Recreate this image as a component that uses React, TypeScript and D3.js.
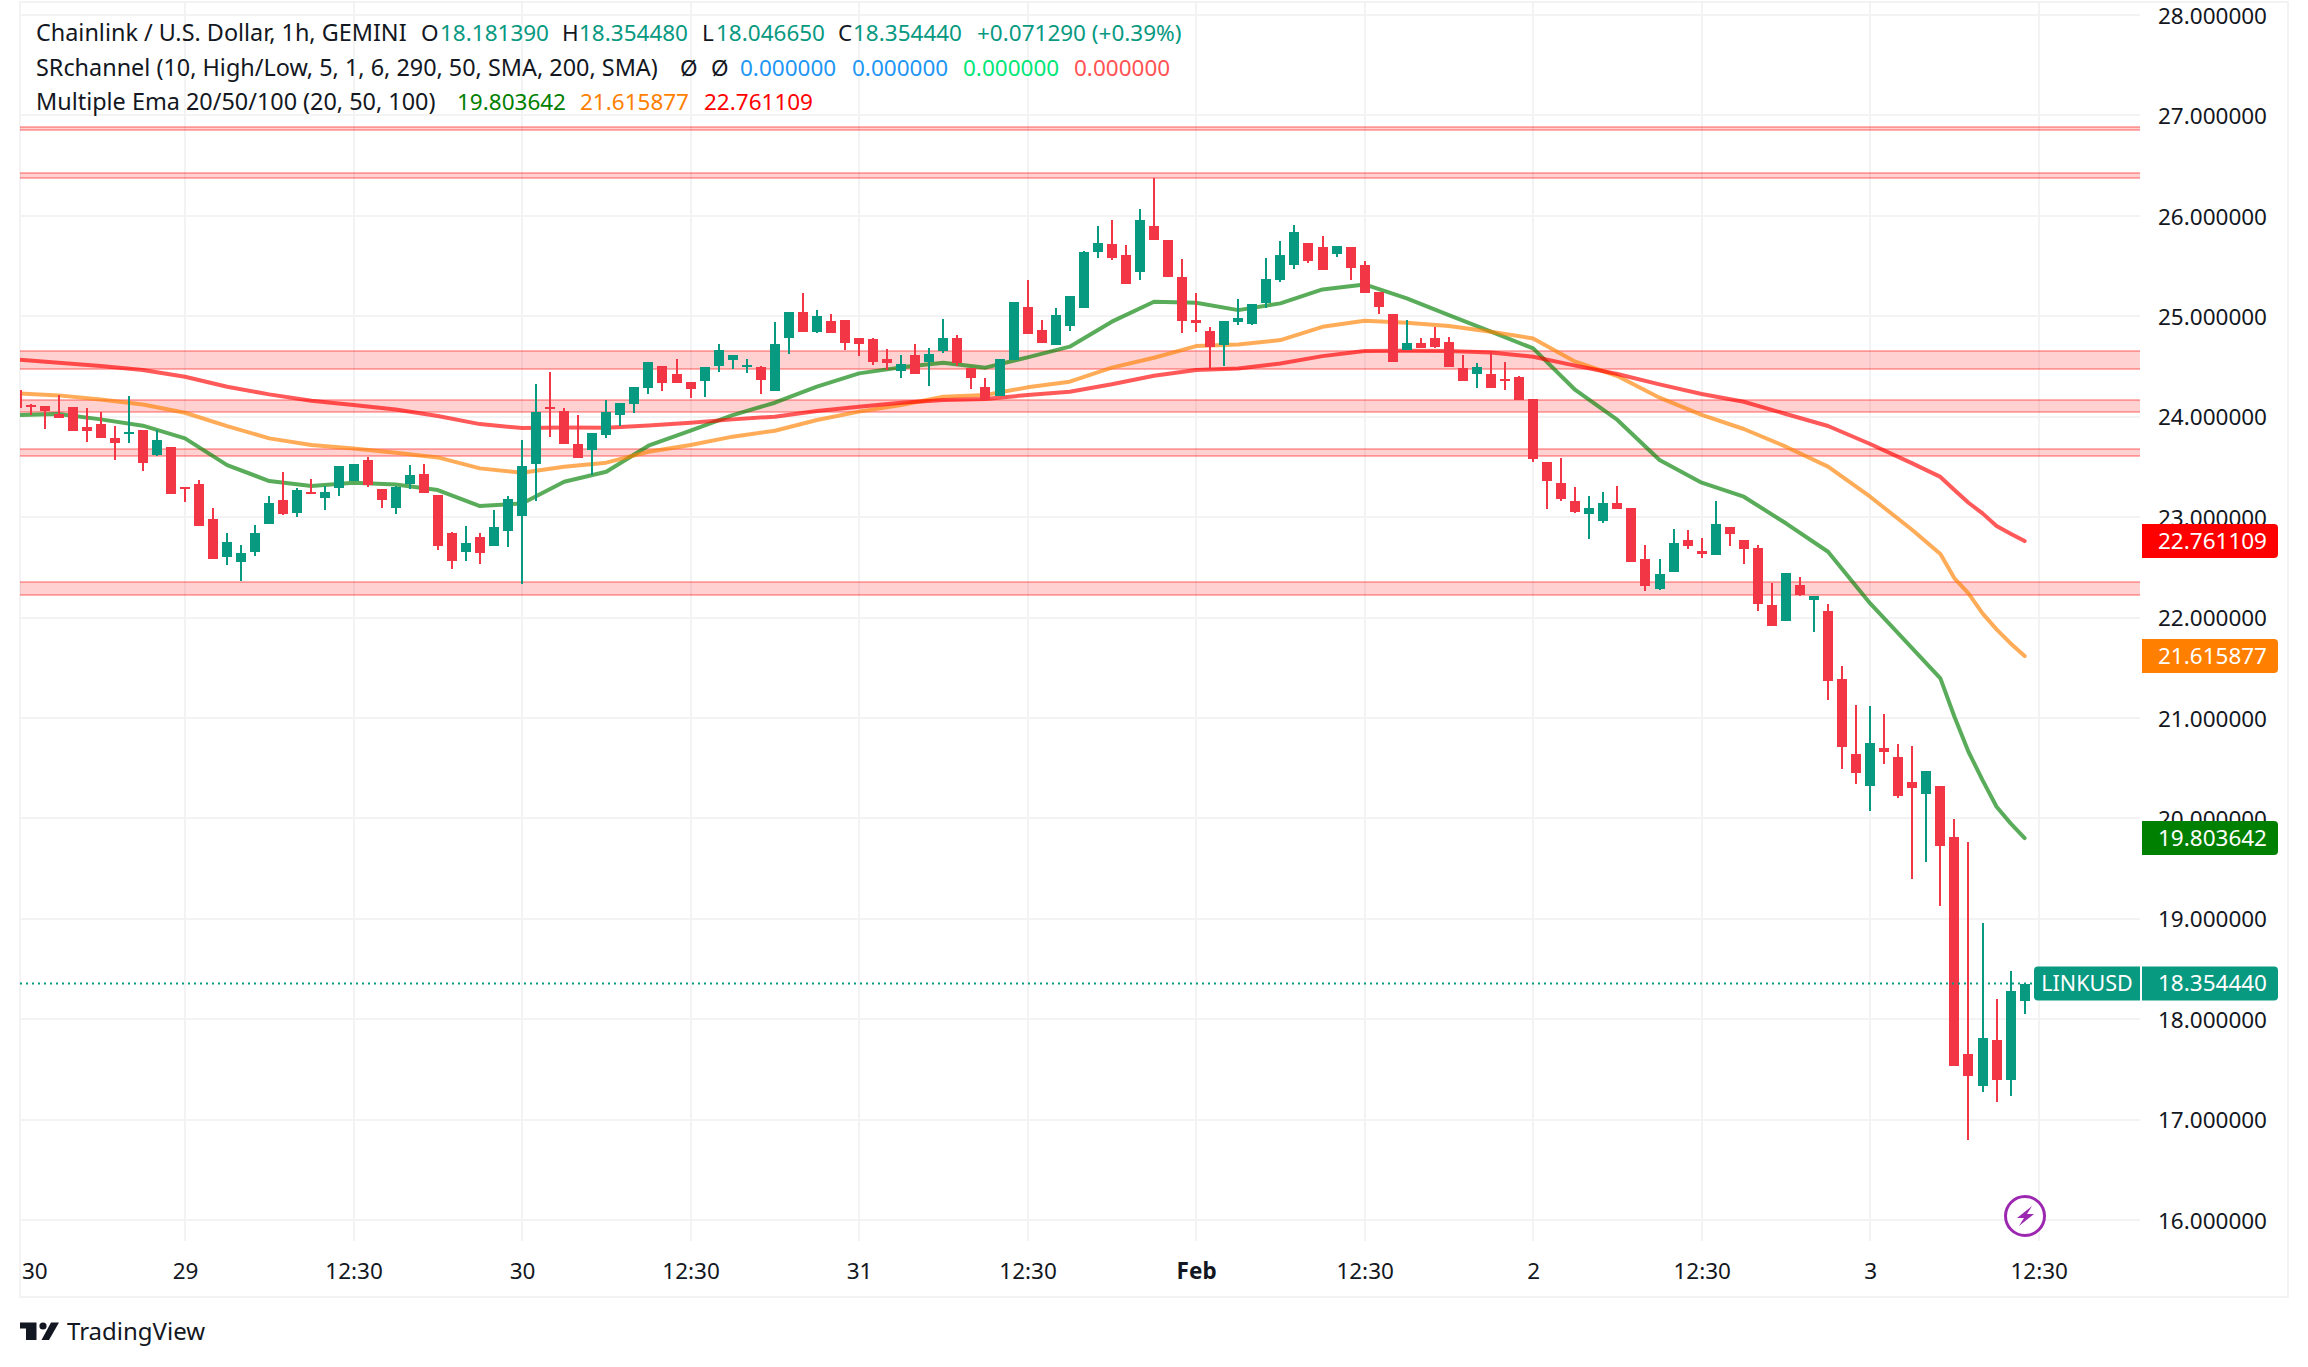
import React, { useEffect, useRef } from 'react';
import * as d3 from 'd3';

const opens = [
  24.265, 24.116, 24.106, 24.026, 24.096, 23.896, 23.926, 23.787, 23.827, 23.867, 23.618, 23.697,
  23.299, 23.329, 22.98, 22.602, 22.552, 22.651, 22.93, 23.169, 23.04, 23.249, 23.189, 23.289,
  23.359, 23.568, 23.279, 23.09, 23.329, 23.428, 23.219, 22.841, 22.651, 22.801, 22.711, 22.861,
  23.01, 23.528, 24.096, 24.056, 23.727, 23.667, 23.817, 24.016, 24.126, 24.285, 24.504, 24.425,
  24.345, 24.355, 24.504, 24.564, 24.494, 24.494, 24.255, 24.783, 25.042, 24.843, 24.953, 24.963,
  24.783, 24.773, 24.574, 24.455, 24.614, 24.544, 24.654, 24.783, 24.485, 24.295, 24.206, 24.563,
  25.091, 24.862, 24.713, 24.902, 25.081, 25.639, 25.719, 25.609, 25.44, 25.898, 25.759, 25.39,
  24.962, 24.852, 24.713, 24.942, 24.922, 25.131, 25.36, 25.51, 25.729, 25.689, 25.619, 25.689,
  25.51, 25.241, 25.022, 24.663, 24.733, 24.783, 24.743, 24.484, 24.424, 24.424, 24.374, 24.394,
  24.176, 23.548, 23.339, 23.16, 23.031, 22.961, 23.14, 23.09, 22.582, 22.284, 22.453, 22.772,
  22.662, 22.622, 22.901, 22.772, 22.692, 22.124, 21.965, 22.323, 22.174, 22.064, 21.387, 20.64,
  20.321, 20.7, 20.61, 20.361, 20.242, 20.321, 19.814, 17.653, 17.334, 17.792, 17.394, 18.18139,
];
const highs = [
  24.265, 24.126, 24.106, 24.215, 24.096, 24.086, 24.046, 23.906, 24.205, 23.867, 23.867, 23.697,
  23.299, 23.369, 23.09, 22.841, 22.721, 22.92, 23.209, 23.448, 23.289, 23.379, 23.309, 23.508,
  23.528, 23.598, 23.279, 23.309, 23.518, 23.528, 23.219, 22.851, 22.91, 22.841, 23.07, 23.209,
  23.767, 24.325, 24.444, 24.086, 24.016, 23.837, 24.166, 24.136, 24.295, 24.544, 24.504, 24.574,
  24.345, 24.494, 24.724, 24.614, 24.574, 24.504, 24.943, 25.042, 25.232, 25.062, 25.022, 24.963,
  24.783, 24.783, 24.674, 24.614, 24.724, 24.684, 24.973, 24.813, 24.485, 24.385, 24.574, 25.141,
  25.36, 24.962, 25.081, 25.201, 25.649, 25.898, 25.958, 25.709, 26.067, 26.376, 25.759, 25.569,
  25.231, 24.892, 24.952, 25.171, 25.121, 25.579, 25.749, 25.908, 25.729, 25.798, 25.699, 25.689,
  25.549, 25.241, 25.022, 24.962, 24.783, 24.892, 24.792, 24.613, 24.534, 24.643, 24.543, 24.404,
  24.176, 23.548, 23.588, 23.299, 23.21, 23.25, 23.309, 23.09, 22.722, 22.582, 22.881, 22.871,
  22.792, 23.16, 22.901, 22.772, 22.722, 22.343, 22.443, 22.403, 22.214, 22.134, 21.516, 21.128,
  21.118, 21.038, 20.74, 20.72, 20.471, 20.321, 19.994, 19.764, 18.958, 18.201, 18.48, 18.35448,
];
const lows = [
  24.089, 24.016, 23.877, 23.986, 23.857, 23.747, 23.787, 23.568, 23.737, 23.458, 23.608, 23.229,
  23.149, 22.91, 22.582, 22.522, 22.363, 22.612, 22.93, 23.02, 23.0, 23.229, 23.07, 23.209,
  23.359, 23.299, 23.09, 23.03, 23.279, 23.239, 22.671, 22.482, 22.562, 22.532, 22.711, 22.701,
  22.333, 23.159, 23.797, 23.727, 23.588, 23.418, 23.787, 23.907, 24.036, 24.226, 24.255, 24.335,
  24.186, 24.196, 24.445, 24.475, 24.435, 24.226, 24.255, 24.624, 24.843, 24.833, 24.833, 24.664,
  24.604, 24.514, 24.465, 24.385, 24.425, 24.305, 24.634, 24.504, 24.275, 24.166, 24.206, 24.563,
  24.822, 24.733, 24.713, 24.852, 25.081, 25.579, 25.559, 25.32, 25.36, 25.759, 25.39, 24.832,
  24.842, 24.464, 24.504, 24.912, 24.912, 25.081, 25.34, 25.47, 25.53, 25.46, 25.589, 25.36,
  25.231, 25.022, 24.543, 24.663, 24.683, 24.683, 24.494, 24.354, 24.285, 24.285, 24.265, 24.165,
  23.548, 23.08, 23.16, 23.041, 22.782, 22.941, 23.08, 22.552, 22.264, 22.274, 22.453, 22.682,
  22.592, 22.622, 22.712, 22.533, 22.064, 21.915, 21.965, 22.214, 21.855, 21.178, 20.491, 20.341,
  20.072, 20.54, 20.202, 19.395, 19.564, 19.126, 17.533, 16.796, 17.274, 17.175, 17.235, 18.04665,
];
const closes = [
  24.089, 24.096, 24.056, 23.986, 23.857, 23.857, 23.787, 23.737, 23.847, 23.538, 23.767, 23.229,
  23.279, 22.91, 22.582, 22.751, 22.642, 22.841, 23.14, 23.03, 23.269, 23.229, 23.249, 23.508,
  23.528, 23.319, 23.169, 23.299, 23.418, 23.239, 22.711, 22.562, 22.741, 22.642, 22.9, 23.179,
  23.508, 24.046, 24.076, 23.727, 23.588, 23.837, 24.046, 24.136, 24.295, 24.544, 24.335, 24.335,
  24.275, 24.494, 24.664, 24.614, 24.514, 24.365, 24.724, 25.042, 24.843, 25.002, 24.833, 24.734,
  24.724, 24.544, 24.534, 24.524, 24.425, 24.624, 24.783, 24.534, 24.385, 24.166, 24.574, 25.141,
  24.822, 24.733, 25.012, 25.201, 25.639, 25.729, 25.579, 25.32, 25.958, 25.759, 25.39, 24.952,
  24.932, 24.693, 24.952, 24.982, 25.121, 25.37, 25.609, 25.838, 25.549, 25.46, 25.699, 25.48,
  25.231, 25.091, 24.543, 24.733, 24.683, 24.693, 24.494, 24.354, 24.494, 24.285, 24.354, 24.165,
  23.578, 23.359, 23.18, 23.05, 23.09, 23.14, 23.08, 22.552, 22.313, 22.433, 22.742, 22.712,
  22.632, 22.931, 22.831, 22.682, 22.134, 21.915, 22.443, 22.224, 22.214, 21.367, 20.71, 20.451,
  20.75, 20.66, 20.222, 20.301, 20.471, 19.724, 17.533, 17.434, 17.812, 17.394, 18.28, 18.35444,
];

const emaHours = [
  0, 3, 6, 9, 12, 15, 18, 21, 24, 27, 30, 33, 36, 39,
  42, 45, 48, 51, 54, 57, 60, 63, 66, 69, 72, 75, 78, 81,
  84, 87, 90, 93, 96, 99, 102, 105, 108,
  111, 114, 117, 120, 123, 126, 129, 132, 135,
  137, 138, 139, 140, 141, 142, 143,
];
const ema20 = [
  24.016, 24.026, 23.973, 23.91, 23.784, 23.518, 23.359, 23.309, 23.342, 23.325, 23.269, 23.11, 23.136, 23.352,
  23.452, 23.711, 23.86, 24.016, 24.139, 24.299, 24.431, 24.491, 24.538, 24.488, 24.591, 24.697, 24.946, 25.145,
  25.134, 25.061, 25.128, 25.267, 25.317, 25.178, 25.012, 24.846, 24.68,
  24.266, 23.967, 23.568, 23.343, 23.203, 22.938, 22.655, 22.14, 21.692,
  21.394, 21.012, 20.663, 20.381, 20.115, 19.95, 19.804,
];
const ema50 = [
  24.232, 24.212, 24.172, 24.122, 24.039, 23.906, 23.784, 23.717, 23.684, 23.641, 23.594, 23.485, 23.442, 23.501,
  23.542, 23.651, 23.718, 23.801, 23.86, 23.967, 24.05, 24.116, 24.199, 24.216, 24.292, 24.348, 24.488, 24.587,
  24.703, 24.719, 24.763, 24.895, 24.955, 24.935, 24.902, 24.846, 24.779,
  24.548, 24.405, 24.189, 24.017, 23.877, 23.701, 23.502, 23.203, 22.871,
  22.632, 22.39, 22.24, 22.041, 21.882, 21.742, 21.616,
];
const ema100 = [
  24.57, 24.537, 24.504, 24.464, 24.398, 24.298, 24.222, 24.159, 24.116, 24.072, 24.006, 23.926, 23.887, 23.893,
  23.89, 23.913, 23.94, 23.973, 24.0, 24.056, 24.099, 24.139, 24.166, 24.176, 24.216, 24.249, 24.322, 24.408,
  24.464, 24.48, 24.53, 24.603, 24.653, 24.656, 24.653, 24.64, 24.597,
  24.508, 24.425, 24.322, 24.226, 24.149, 24.027, 23.907, 23.728, 23.535,
  23.4, 23.27, 23.143, 23.037, 22.911, 22.835, 22.761,
];

// support / resistance channels, [top, bottom]
const channels: [number, number][] = [
  [26.88, 26.85],
  [26.43, 26.38],
  [24.65, 24.47],
  [24.17, 24.05],
  [23.68, 23.61],
  [22.35, 22.22],
];

const priceTicks = d3.range(16, 29);
const timeTicks = [12, 24, 36, 48, 60, 72, 84, 96, 108, 120, 132, 144];
const timeLabels = ['29', '12:30', '30', '12:30', '31', '12:30', 'Feb', '12:30', '2', '12:30', '3', '12:30'];

const UP = '#089981';
const DOWN = '#f23645';
const GRID = '#f3f3f4';
const TEXT = '#131722';
const FONT = '"Noto Sans", sans-serif';
const NUM_SIZE = 22.5;
const WORD_SIZE = 23.4;

const W = 2308;
const H = 1367;

const App: React.FC = () => {
  const ref = useRef<SVGSVGElement | null>(null);

  useEffect(() => {
    if (!ref.current) return;
    const svg = d3.select(ref.current);
    svg.selectAll('*').remove();

    const x = d3.scaleLinear().domain([0, 144]).range([16.5, 2038.7]);
    const y = d3.scaleLinear().domain([16, 28]).range([1220, 15]);
    const left = 20;
    const right = 2140;

    svg.append('defs').append('clipPath').attr('id', 'pane')
      .append('rect').attr('x', left).attr('y', 0).attr('width', right - left).attr('height', 1241);

    // frame
    svg.append('rect').attr('x', 20).attr('y', 2).attr('width', 2268).attr('height', 1295)
      .attr('fill', 'none').attr('stroke', GRID).attr('stroke-width', 2);

    // grid
    const grid = svg.append('g').attr('stroke', GRID).attr('stroke-width', 2).attr('shape-rendering', 'crispEdges');
    grid.selectAll('line.h').data(priceTicks).join('line').attr('class', 'h')
      .attr('x1', left).attr('x2', right)
      .attr('y1', d => Math.round(y(d))).attr('y2', d => Math.round(y(d)));
    grid.selectAll('line.v').data(timeTicks).join('line').attr('class', 'v')
      .attr('y1', 2).attr('y2', 1241)
      .attr('x1', d => Math.round(x(d))).attr('x2', d => Math.round(x(d)));

    const pane = svg.append('g').attr('clip-path', 'url(#pane)');

    // channels
    channels.forEach(([top, bottom]) => {
      const g = pane.append('g').attr('shape-rendering', 'crispEdges');
      g.append('rect').attr('x', left).attr('width', right - left)
        .attr('y', y(top)).attr('height', y(bottom) - y(top))
        .attr('fill', '#ff0000').attr('fill-opacity', 0.18);
      [top, bottom].forEach(v => {
        g.append('line').attr('x1', left).attr('x2', right).attr('y1', y(v)).attr('y2', y(v))
          .attr('stroke', '#ff0000').attr('stroke-opacity', 0.3).attr('stroke-width', 2);
      });
    });

    // moving averages, under the candles
    const line = d3.line<number>().x((_, i) => x(emaHours[i])).y(d => y(d));
    [
      { values: ema20, color: '#008000' },
      { values: ema50, color: '#ff7f00' },
      { values: ema100, color: '#ff0000' },
    ].forEach(s => {
      pane.append('path').attr('d', line(s.values))
        .attr('fill', 'none').attr('stroke', s.color).attr('stroke-opacity', 0.65)
        .attr('stroke-width', 4).attr('stroke-linejoin', 'round').attr('stroke-linecap', 'round');
    });

    // candles
    const candles = opens.map((o, i) => ({ i, o, h: highs[i], l: lows[i], c: closes[i] }));
    const candle = pane.append('g').attr('shape-rendering', 'crispEdges')
      .selectAll('g').data(candles).join('g')
      .attr('fill', d => (d.c >= d.o ? UP : DOWN));
    candle.append('rect')
      .attr('x', d => Math.round(x(d.i)) - 1).attr('width', 2)
      .attr('y', d => y(d.h)).attr('height', d => y(d.l) - y(d.h));
    candle.append('rect')
      .attr('x', d => Math.round(x(d.i)) - 5).attr('width', 10)
      .attr('y', d => y(Math.max(d.o, d.c)))
      .attr('height', d => Math.max(2, Math.abs(y(d.o) - y(d.c))));

    // last price line
    const last = closes[closes.length - 1];
    svg.append('line').attr('x1', left).attr('x2', 2034).attr('y1', y(last)).attr('y2', y(last))
      .attr('stroke', UP).attr('stroke-width', 2).attr('stroke-dasharray', '2 4');

    // axes
    const priceAxis = svg.append('g').attr('transform', 'translate(2267,1)')
      .call(d3.axisRight(y).tickValues(priceTicks).tickSize(0).tickPadding(0).tickFormat(d => (+d).toFixed(6)));
    priceAxis.select('.domain').remove();
    priceAxis.selectAll('text').attr('text-anchor', 'end').attr('fill', TEXT)
      .attr('font-family', FONT).attr('font-size', NUM_SIZE);

    const timeAxis = svg.append('g').attr('transform', 'translate(0,1263)')
      .call(d3.axisBottom(x).tickValues(timeTicks).tickSize(0).tickPadding(0)
        .tickFormat((_, i) => timeLabels[i]));
    timeAxis.select('.domain').remove();
    timeAxis.selectAll('text').attr('fill', TEXT).attr('font-family', FONT).attr('font-size', NUM_SIZE)
      .attr('font-weight', (_, i) => (timeLabels[i] === 'Feb' ? 700 : 400));
    // the first day label sits against the left edge
    svg.append('text').attr('x', 22).attr('y', 1279).attr('fill', TEXT)
      .attr('font-family', FONT).attr('font-size', NUM_SIZE).text('30');

    // price tags
    const tag = (value: number, color: string, label: string) => {
      const cy = y(value);
      svg.append('path')
        .attr('d', `M2142,${cy - 17}H2274a4,4 0 0 1 4,4V${cy + 13}a4,4 0 0 1 -4,4H2142Z`)
        .attr('fill', color);
      svg.append('text').attr('x', 2267).attr('y', cy).attr('dy', '0.35em').attr('text-anchor', 'end')
        .attr('fill', '#fff').attr('font-family', FONT).attr('font-size', NUM_SIZE).text(label);
    };
    tag(ema100[ema100.length - 1], '#ff0000', '22.761109');
    tag(ema50[ema50.length - 1], '#ff7f00', '21.615877');
    tag(ema20[ema20.length - 1], '#008000', '19.803642');
    tag(last, UP, '18.354440');
    const ly = y(last);
    svg.append('path')
      .attr('d', `M2140,${ly - 17}H2038a4,4 0 0 0 -4,4V${ly + 13}a4,4 0 0 0 4,4H2140Z`)
      .attr('fill', UP);
    svg.append('text').attr('x', 2087).attr('y', ly).attr('dy', '0.35em').attr('text-anchor', 'middle')
      .attr('fill', '#fff').attr('font-family', FONT).attr('font-size', 21.5).text('LINKUSD');

    // legend
    const legend = svg.append('g').attr('font-family', FONT);
    const put = (tx: number, ty: number, s: string, fill: string, size = NUM_SIZE) =>
      legend.append('text').attr('x', tx).attr('y', ty).attr('fill', fill).attr('font-size', size).text(s);
    put(36, 41, 'Chainlink / U.S. Dollar, 1h, GEMINI', TEXT, WORD_SIZE);
    put(421, 41, 'O', TEXT);
    put(440, 41, '18.181390', UP);
    put(562, 41, 'H', TEXT);
    put(579, 41, '18.354480', UP);
    put(702, 41, 'L', TEXT);
    put(716, 41, '18.046650', UP);
    put(838, 41, 'C', TEXT);
    put(853, 41, '18.354440', UP);
    put(977, 41, '+0.071290 (+0.39%)', UP);
    put(36, 76, 'SRchannel (10, High/Low, 5, 1, 6, 290, 50, SMA, 200, SMA)', TEXT, WORD_SIZE);
    put(680, 76, 'Ø', TEXT);
    put(711, 76, 'Ø', TEXT);
    put(740, 76, '0.000000', '#2196f3');
    put(852, 76, '0.000000', '#2196f3');
    put(963, 76, '0.000000', '#00e676');
    put(1074, 76, '0.000000', '#ff5252');
    put(36, 110, 'Multiple Ema 20/50/100 (20, 50, 100)', TEXT, WORD_SIZE);
    put(457, 110, '19.803642', '#008000');
    put(580, 110, '21.615877', '#ff7f00');
    put(704, 110, '22.761109', '#ff0000');

    // lightning badge
    const badge = svg.append('g').attr('transform', 'translate(2025,1216)');
    badge.append('circle').attr('r', 19.5).attr('fill', '#fff').attr('stroke', '#9c27b0').attr('stroke-width', 3);
    badge.append('path').attr('d', 'M7,-10 L-8,2 L-1,2 L-6,10 L9,-2 L2,-2 Z').attr('fill', '#9c27b0');

    // logo
    const logo = svg.append('g').attr('fill', TEXT);
    logo.append('path').attr('d', 'M20,1322.5H36.5V1340H26V1328.5H20Z');
    logo.append('circle').attr('cx', 43).attr('cy', 1326).attr('r', 3.6);
    logo.append('path').attr('d', 'M51,1322.5H59L49,1340H41.5Z');
    logo.append('text').attr('x', 67).attr('y', 1340).attr('font-family', FONT).attr('font-size', 24)
      .text('TradingView');
  }, []);

  return (
    <svg
      ref={ref}
      width={W}
      height={H}
      style={{ position: 'absolute', left: 0, top: 0, background: '#fff' }}
    />
  );
};

export default App;
